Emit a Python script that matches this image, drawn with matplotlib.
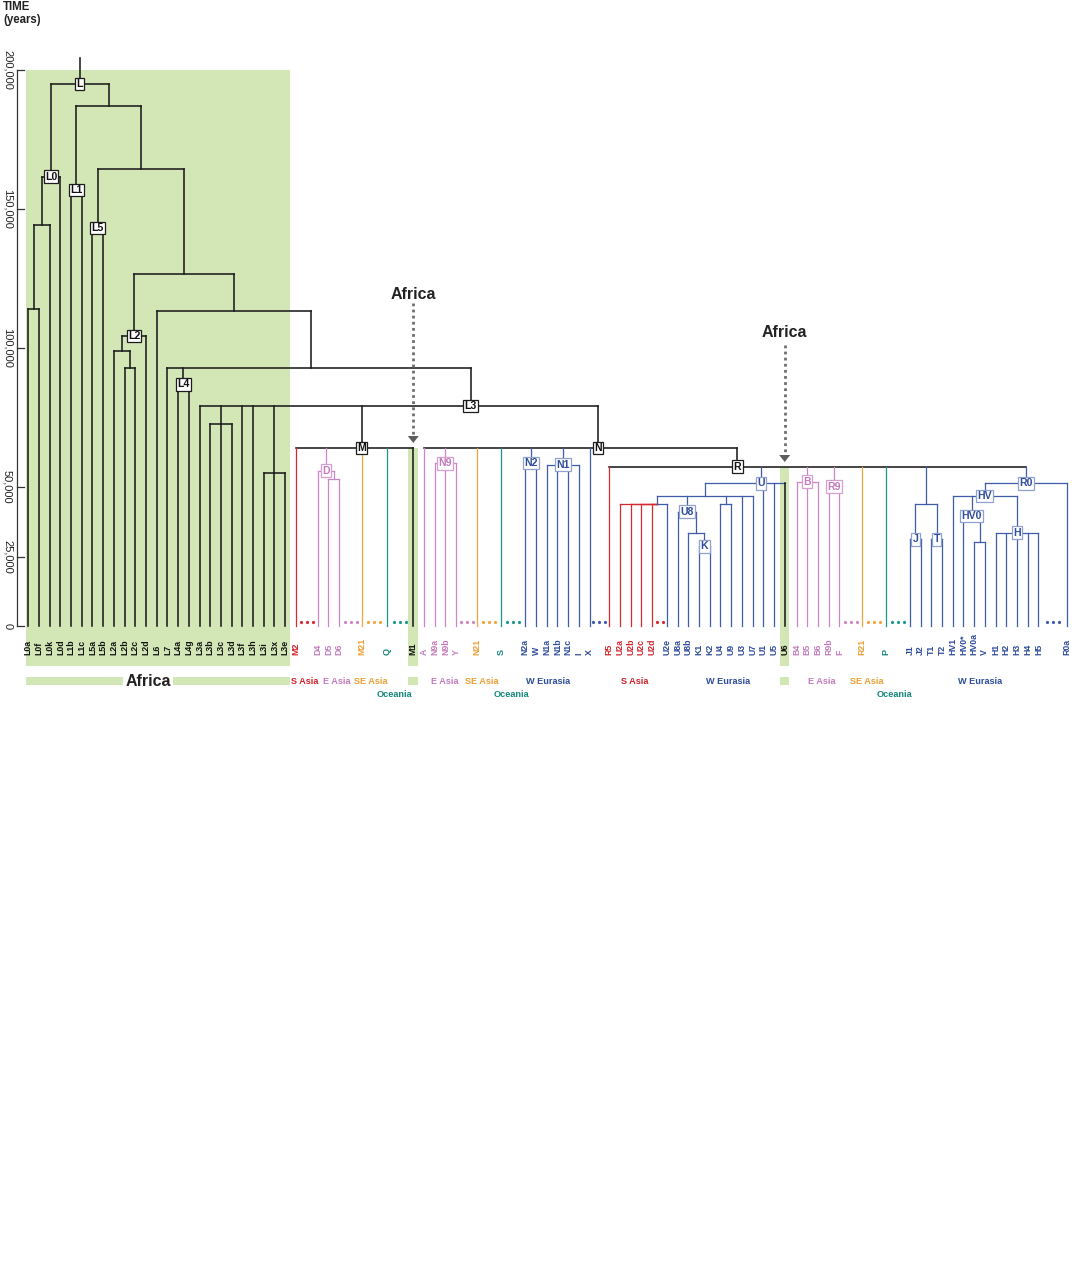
import matplotlib
matplotlib.use("Agg")
import matplotlib.pyplot as plt
from matplotlib.patches import Rectangle, Polygon

plt.rcParams["font.family"] = ["Liberation Sans", "DejaVu Sans"]

# ---------------- data ----------------
leaves = ["L0a", "L0f", "L0k", "L0d", "L1b", "L1c", "L5a", "L5b", "L2a", "L2b", "L2c", "L2d",
          "L6", "L7", "L4a", "L4g", "L3a", "L3b", "L3c", "L3d", "L3f", "L3h", "L3i", "L3x", "L3e",
          "M2", "D4", "D5", "D6", "M21", "Q", "M1", "A", "N9a", "N9b", "Y", "N21", "S",
          "N2a", "W", "N1a", "N1b", "N1c", "I", "X",
          "R5", "U2a", "U2b", "U2c", "U2d", "U2e", "U8a", "U8b", "K1", "K2", "U4", "U9", "U3", "U7",
          "U1", "U5", "U6", "B4", "B5", "B6", "R9b", "F", "R21", "P", "J1", "J2", "T1", "T2",
          "HV1", "HV0*", "HV0a", "V", "H1", "H2", "H3", "H4", "H5", "R0a"]
leaf_region = (["af"] * 25
               + ["sa", "ea", "ea", "ea", "se", "oc", "af", "ea", "ea", "ea", "ea", "se", "oc"]
               + ["we"] * 7 + ["sa"] * 5 + ["we"] * 11 + ["af"]
               + ["ea"] * 5 + ["se", "oc"] + ["we"] * 14)
heavy_leaves = ["M2", "Q", "M1", "S", "U6", "P"]

# internal nodes: children (left to right)
node_children = {
    "L": ["L0", "n1"],
    "L0": ["n0a", "L0d"],
    "n0a": ["n0b", "L0k"],
    "n0b": ["L0a", "L0f"],
    "n1": ["L1", "n2"],
    "L1": ["L1b", "L1c"],
    "n2": ["L5", "n3"],
    "L5": ["L5a", "L5b"],
    "n3": ["L2", "n4"],
    "L2": ["n2a", "L2d"],
    "n2a": ["L2a", "n2b"],
    "n2b": ["L2b", "L2c"],
    "n4": ["L6", "n5"],
    "n5": ["L7", "L4", "L3"],
    "L4": ["L4a", "L4g"],
    "L3": ["L3a", "n3bcd", "L3f", "L3h", "n3ixe", "M", "N"],
    "n3bcd": ["L3b", "L3c", "L3d"],
    "n3ixe": ["L3i", "L3x", "L3e"],
    "M": ["M2", "D", "M21", "Q", "M1"],
    "D": ["D4", "nD56"],
    "nD56": ["D5", "D6"],
    "N": ["A", "N9", "N21", "S", "N2", "N1", "X", "R"],
    "N9": ["N9a", "N9b", "Y"],
    "N2": ["N2a", "W"],
    "N1": ["N1a", "N1b", "N1c", "I"],
    "R": ["R5", "U", "B", "R9", "R21", "P", "nJT", "R0"],
    "U": ["nU1", "U1", "U5", "U6"],
    "nU1": ["nU2", "U8", "nU49", "U3", "U7"],
    "nU2": ["U2a", "U2b", "U2c", "U2d", "U2e"],
    "U8": ["U8a", "nU8K"],
    "nU8K": ["U8b", "K"],
    "K": ["K1", "K2"],
    "nU49": ["U4", "U9"],
    "B": ["B4", "B5", "B6"],
    "R9": ["R9b", "F"],
    "nJT": ["J", "T"],
    "J": ["J1", "J2"],
    "T": ["T1", "T2"],
    "R0": ["HV", "R0a"],
    "HV": ["HV1", "HV0", "H"],
    "HV0": ["HV0*", "nHV0aV"],
    "nHV0aV": ["HV0a", "V"],
    "H": ["H1", "H2", "H3", "H4", "H5"],
}
# node ages in years
node_time = {
    "L": 195000, "L0": 161600, "n0a": 144200, "n0b": 114000, "n1": 187200, "L1": 156800,
    "n2": 164400, "L5": 143200, "n3": 126600, "L2": 104400, "n2a": 99000, "n2b": 92700,
    "n4": 113400, "n5": 92700, "L4": 86900, "L3": 79200, "n3bcd": 72700, "n3ixe": 55100,
    "M": 64000, "D": 55900, "nD56": 52900, "N": 64000, "N9": 58500, "N2": 58600, "N1": 58000,
    "R": 57300, "U": 51300, "nU1": 46900, "nU2": 43800, "U8": 41100, "nU8K": 33600,
    "K": 28600, "nU49": 43800, "B": 51900, "R9": 50100, "nJT": 43900, "J": 31200,
    "T": 31200, "R0": 51300, "HV": 46800, "HV0": 39600, "nHV0aV": 30300, "H": 33600,
}
root_stem_top = 204300
node_region = {n: "ea" for n in ["D", "nD56", "N9", "B", "R9"]}
node_region.update({n: "we" for n in ["N2", "N1", "U", "nU1", "nU2", "U8", "nU8K", "K", "nU49",
                                        "nJT", "J", "T", "R0", "HV", "HV0", "nHV0aV", "H"]})

# "more lineages" dots: (after leaf, region, number of dots)
dot_groups = [("M2", "sa", 3), ("D6", "ea", 3), ("M21", "se", 3), ("Q", "oc", 3),
              ("Y", "ea", 3), ("N21", "se", 3), ("S", "oc", 3), ("X", "we", 3),
              ("U2d", "sa", 2), ("F", "ea", 3), ("R21", "se", 3), ("P", "oc", 3),
              ("H5", "we", 3)]

region_row = [("S Asia", "sa"), ("E Asia", "ea"), ("SE Asia", "se"), ("E Asia", "ea"),
              ("SE Asia", "se"), ("W Eurasia", "we"), ("S Asia", "sa"), ("W Eurasia", "we"),
              ("E Asia", "ea"), ("SE Asia", "se"), ("W Eurasia", "we")]
oceania_row = [("Oceania", "oc"), ("Oceania", "oc"), ("Oceania", "oc")]

time_ticks = [0, 25000, 50000, 100000, 150000, 200000]
arrow_leaves = ["M1", "U6"]

# ---------------- layout / style ----------------
W, H = 1072, 1275
X0_PX, SLOT_PX = 28.3, 10.7
Y0_PX, PX_PER_YEAR = 626.0, 2.78 / 1000.0


def px2x(p):
    return (p - X0_PX) / SLOT_PX


def px2t(p):
    return (Y0_PX - p) / PX_PER_YEAR


gap_after = {"M2": 2.05, "D6": 2.14, "M21": 2.31, "Q": 2.48, "Y": 1.95, "N21": 2.25,
             "S": 2.27, "X": 1.85, "U2d": 1.39, "U6": 1.12, "F": 2.12, "R21": 2.22,
             "P": 2.25, "H5": 2.65}
stem_frac = {"n5": 0.472, "L3": 0.681, "M": 0.56, "N": 0.554, "R": 0.3076,
             "U": 0.703, "nU2": 0.785}
split_bar = ["nU2"]

region_row_anchor = [("M2", 0.8), ("D5", 0.75), ("M21", 0.85), ("N9b", -0.1), ("N21", 0.47),
                     ("N1a", 0.1), ("U2b", 0.4), ("U9", -0.3), ("B6", 0.3), ("R21", 0.4),
                     ("HV0a", 0.55)]
oceania_anchor = [("Q", 0.7), ("S", 0.95), ("P", 0.8)]

line_col = {"af": "#1c1c1c", "sa": "#d42a30", "ea": "#cc85c6", "se": "#f0a53e",
            "oc": "#1a978a", "we": "#3f5ca9"}
text_col = {"af": "#111111", "sa": "#d1222b", "ea": "#c47bbd", "se": "#ee9f32",
            "oc": "#13877b", "we": "#2f4c9c"}
box_edge = {"af": "#1c1c1c", "ea": "#d79ed2", "we": "#8fa2cf"}
green = "#d3e6b6"
LW_BLACK, LW_COL = 1.15, 0.9

assert len(leaves) == len(leaf_region)

# ---------------- positions ----------------
xpos, tpos, region = {}, {}, {}
s = 0.0
for name, reg in zip(leaves, leaf_region):
    xpos[name] = s
    tpos[name] = 0
    region[name] = reg
    s += gap_after.get(name, 1.0)


def place(n):
    if n in xpos:
        return xpos[n]
    xs = [place(c) for c in node_children[n]]
    xpos[n] = xs[0] + stem_frac.get(n, 0.5) * (xs[-1] - xs[0])
    tpos[n] = node_time[n]
    region[n] = node_region.get(n, "af")
    return xpos[n]


place("L")

fig = plt.figure(figsize=(W / 100, H / 100), dpi=100)
ax = fig.add_axes([0, 0, 1, 1])
ax.set_xlim(px2x(0), px2x(W))
ax.set_ylim(px2t(H), px2t(0))
ax.axis("off")


def seg(x0, y0, x1, y1, reg, z=2):
    ax.plot([x0, x1], [y0, y1], color=line_col[reg],
            lw=LW_BLACK if reg == "af" else LW_COL, zorder=z,
            solid_capstyle="projecting")


# green Africa bands
band_bot = px2t(666)
xl = xpos["L0a"] - 0.22
xr = xpos["L3e"] + 0.5
ax.add_patch(Rectangle((xl, band_bot), xr - xl, 200000 - band_bot, fc=green, ec="none", zorder=0))
ax.add_patch(Rectangle((xpos["M1"] - 0.47, band_bot), 0.94, node_time["M"] - band_bot,
                       fc=green, ec="none", zorder=0))
ax.add_patch(Rectangle((xpos["U6"] - 0.42, band_bot), 0.84, node_time["R"] - band_bot,
                       fc=green, ec="none", zorder=0))

# tree
seg(xpos["L"], node_time["L"], xpos["L"], root_stem_top, "af")
for n, ch in node_children.items():
    t = tpos[n]
    xs = [xpos[c] for c in ch]
    if n in split_bar:
        for c in ch:
            seg(xpos[n], t, xpos[c], t, region[c])
    else:
        seg(min(xs), t, max(xs), t, region[n])
    for c in ch:
        seg(xpos[c], t, xpos[c], tpos[c], region[c])

# node label boxes
for n in node_children:
    if n.startswith("n"):
        continue
    reg = region[n]
    ax.text(xpos[n], tpos[n], n, ha="center", va="center", fontsize=7.6,
            fontweight="bold", color=text_col[reg], zorder=4,
            bbox=dict(boxstyle="square,pad=0.12", fc="white", ec=box_edge[reg], lw=0.9))

# dots for further lineages
dot_t = px2t(622)
for after, reg, k in dot_groups:
    i = leaves.index(after)
    mid = 0.5 * (xpos[after] + xpos[leaves[i + 1]])
    xs = [mid + (j - (k - 1) / 2) * 0.56 for j in range(k)]
    ax.plot(xs, [dot_t] * k, "o", ms=2.3, color=line_col[reg], mec="none", zorder=3)

# leaf labels
lab_t = px2t(654.5)
for name in leaves:
    ax.text(xpos[name], lab_t, name, rotation=90, ha="center", va="bottom",
            fontsize=6.5 if name in heavy_leaves else 6.3,
            color=text_col[region[name]],
            fontweight="heavy" if name in heavy_leaves else "bold", zorder=4)

# region row
row_b0, row_b1 = px2t(677), px2t(685)
cx = 0.5 * (xl + xr) - 0.95
half = 2.37
ax.add_patch(Rectangle((xl, row_b1), cx - half - xl, row_b0 - row_b1, fc=green, ec="none"))
ax.add_patch(Rectangle((cx + half, row_b1), xr - cx - half, row_b0 - row_b1, fc=green, ec="none"))
ax.add_patch(Rectangle((xpos["M1"] - 0.47, row_b1), 0.94, row_b0 - row_b1, fc=green, ec="none"))
ax.add_patch(Rectangle((xpos["U6"] - 0.42, row_b1), 0.84, row_b0 - row_b1, fc=green, ec="none"))
ax.text(cx, px2t(681.5), "Africa", ha="center", va="center", fontsize=11.5,
        fontweight="bold", color="#222222")
row_t = px2t(681)
for (txt, reg), (anc, off) in zip(region_row, region_row_anchor):
    ax.text(xpos[anc] + off, row_t, txt, ha="center", va="center", fontsize=6.6,
            fontweight="bold", color=text_col[reg])
oc_t = px2t(694)
for (txt, reg), (anc, off) in zip(oceania_row, oceania_anchor):
    ax.text(xpos[anc] + off, oc_t, txt, ha="center", va="center", fontsize=6.6,
            fontweight="bold", color=text_col[reg])

# time axis
ax_x = px2x(17.3)
ax.plot([ax_x, ax_x], [0, 200000], color="#333333", lw=0.9)
for tv in time_ticks:
    ax.plot([ax_x, px2x(24)], [tv, tv], color="#333333", lw=0.9)
    ax.text(px2x(7.5), tv, f"{tv:,}", rotation=270, ha="center", va="center",
            fontsize=8, color="#222222")
ax.text(px2x(3), px2t(0.5), "TIME\n(years)", ha="left", va="top", fontsize=8.3,
        fontweight="bold", color="#222222", linespacing=1.15)

# "Africa" back-migration arrows
arrow_geom = [(294.3, 303, 436, 443), (332.3, 345, 455, 462)]
for leaf, (ty, l0, hb, tip) in zip(arrow_leaves, arrow_geom):
    x = xpos[leaf]
    ax.text(x, px2t(ty), "Africa", ha="center", va="center", fontsize=11.5,
            fontweight="bold", color="#222222")
    ax.plot([x, x], [px2t(l0), px2t(hb)], ls=(0, (1, 1.2)), lw=2.0, color="#6e6e6e")
    hw = 5.5 / SLOT_PX
    ax.add_patch(Polygon([(x - hw, px2t(hb)), (x + hw, px2t(hb)), (x, px2t(tip))],
                         closed=True, fc="#5e5e5e", ec="none", zorder=5))

fig.savefig("out.png", dpi=100)
